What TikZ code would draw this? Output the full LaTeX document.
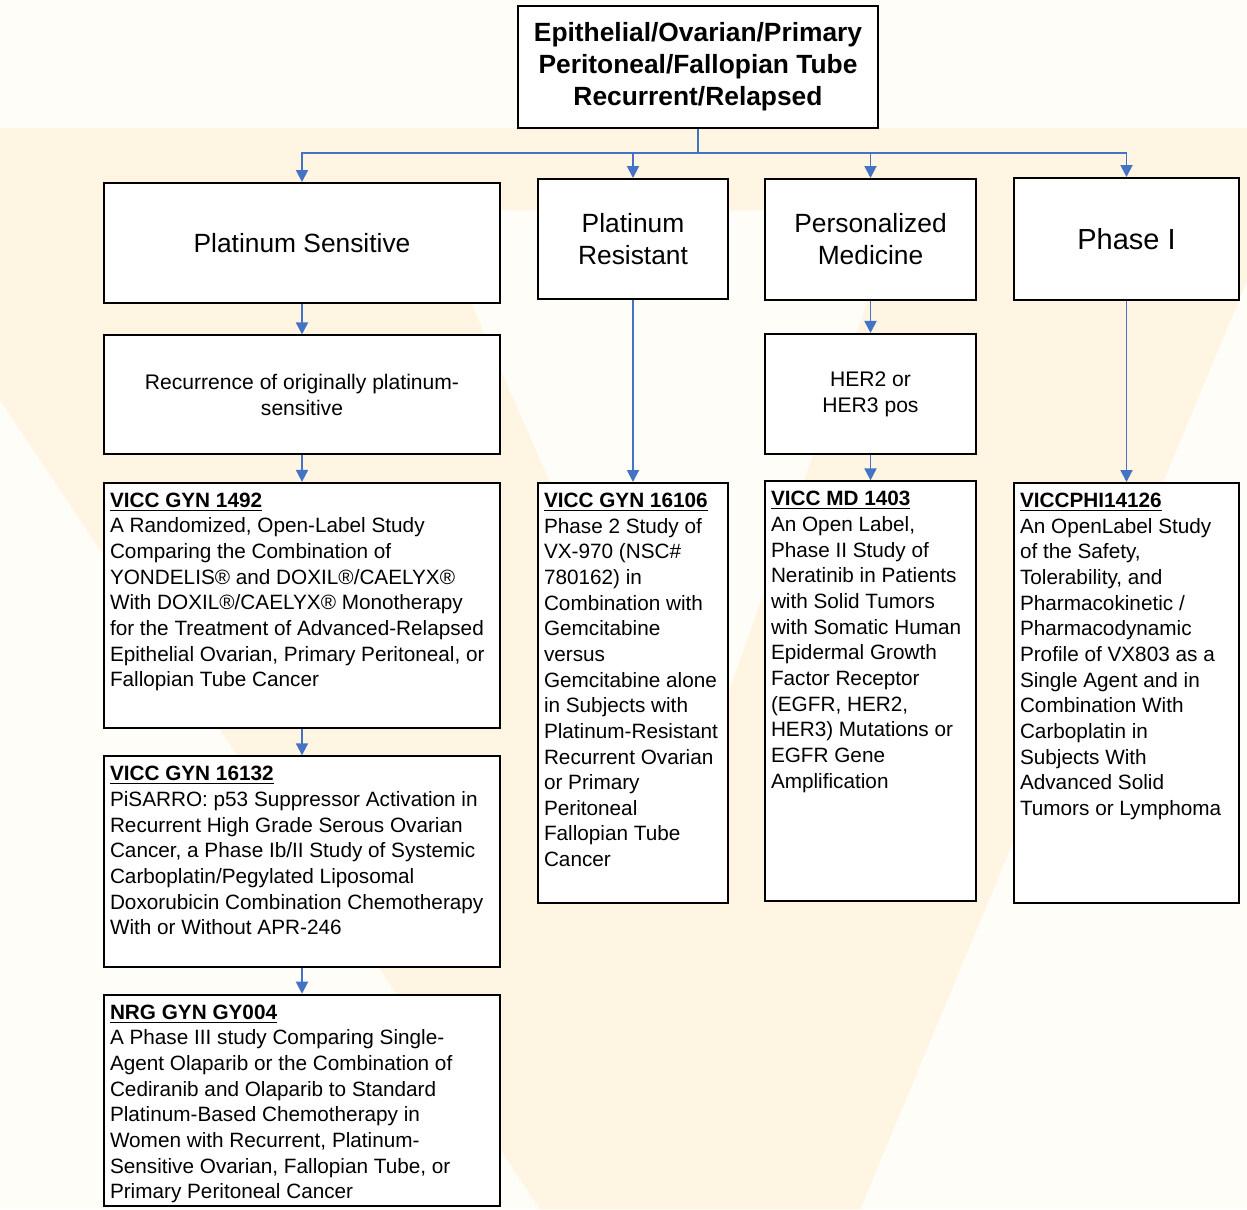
\documentclass[tikz,border=0pt]{standalone}
\usepackage{fontspec}
\setmainfont{Liberation Sans}
\usetikzlibrary{arrows.meta, positioning, calc}
\definecolor{linkblue}{HTML}{4472C4}
\definecolor{paper}{HTML}{FFFDF7}
\definecolor{markorange}{HTML}{FFF5E2}
\newcommand{\headfont}{\fontsize{15}{18.2}\selectfont}
\newcommand{\subfont}{\fontsize{12}{14.8}\selectfont}
\newcommand{\trialfont}{\fontsize{11.8}{14.6}\selectfont}
\newcommand{\trialid}[1]{\underline{\textbf{#1}}}
\tikzset{
    box/.style={rectangle, draw=black, fill=white, line width=1.1pt, anchor=north, inner sep=2pt},
    headbox/.style={box, align=center, font=\headfont},
    subbox/.style={box, align=center, font=\subfont},
    trial/.style 2 args={box, inner xsep=0.12cm, inner ysep=0.2cm, font=\trialfont,
        execute at begin node={\begin{minipage}[t][#2][t]{#1}\raggedright},
        execute at end node={\end{minipage}}},
    arrow/.style={-{Triangle[length=0.24cm, width=0.24cm]}, line width=1.1pt, draw=linkblue}
}

\begin{document}
\begin{tikzpicture}
    \useasboundingbox (0,0) rectangle (24.94,-24.18);
    % faint watermark behind the chart
    \begin{scope}[x=0.02cm, y=-0.02cm]
        \fill[paper] (0,0) rectangle (1247,1209);
        \fill[markorange, even odd rule] (0,128) -- (1247,128) -- (1247,280) -- (860,1209) -- (540,1209) -- (0,400) -- cycle
            (430,210) -- (900,210) -- (690,800) -- cycle;
    \end{scope}

    \node[headbox, font=\bfseries\headfont, minimum width=7.2cm, minimum height=2.44cm] (top) at (13.96,-0.1)
        {Epithelial/Ovarian/Primary\\Peritoneal/Fallopian Tube\\Recurrent/Relapsed};

    \node[headbox, minimum width=7.92cm, minimum height=2.4cm] (ps) at (6.04,-3.64) {Platinum Sensitive};
    \node[headbox, minimum width=3.8cm, minimum height=2.4cm] (pr) at (12.66,-3.56) {Platinum\\Resistant};
    \node[headbox, minimum width=4.22cm, minimum height=2.42cm] (pm) at (17.41,-3.56) {Personalized\\Medicine};
    \node[headbox, font=\fontsize{16.5}{19}\selectfont, minimum width=4.5cm, minimum height=2.44cm] (ph) at (22.53,-3.54) {Phase I};

    \coordinate (fork) at ($(top.south)+(0,-0.48)$);
    \draw[arrow, -] (top) -- (fork);
    \draw[arrow] (fork) -| (ps);
    \draw[arrow] (fork) -| (pr);
    \draw[arrow] (fork) -| (pm);
    \draw[arrow] (fork) -| (ph);

    \node[subbox, below=0.61cm of ps, minimum width=7.92cm, minimum height=2.38cm] (rec) {Recurrence of originally platinum-\\sensitive};
    \node[subbox, below=0.64cm of pm, minimum width=4.22cm, minimum height=2.4cm] (her) {HER2 or\\HER3 pos};

    \node[trial={7.68cm}{4.5cm}, below=0.53cm of rec] (g1492) {\trialid{VICC GYN 1492}\\
        A Randomized, Open-Label Study\\
        Comparing the Combination of\\
        YONDELIS® and DOXIL®/CAELYX®\\
        With DOXIL®/CAELYX® Monotherapy\\
        for the Treatment of Advanced-Relapsed\\
        Epithelial Ovarian, Primary Peritoneal, or\\
        Fallopian Tube Cancer};
    \node[trial={7.68cm}{3.82cm}, below=0.53cm of g1492] (g16132) {\trialid{VICC GYN 16132}\\
        PiSARRO: p53 Suppressor Activation in\\
        Recurrent High Grade Serous Ovarian\\
        Cancer, a Phase Ib/II Study of Systemic\\
        Carboplatin/Pegylated Liposomal\\
        Doxorubicin Combination Chemotherapy\\
        With or Without APR-246};
    \node[trial={7.68cm}{3.82cm}, below=0.51cm of g16132] (gy004) {\trialid{NRG GYN GY004}\\
        A Phase III study Comparing Single-\\
        Agent Olaparib or the Combination of\\
        Cediranib and Olaparib to Standard\\
        Platinum-Based Chemotherapy in\\
        Women with Recurrent, Platinum-\\
        Sensitive Ovarian, Fallopian Tube, or\\
        Primary Peritoneal Cancer};

    \node[trial={3.56cm}{8cm}] (g16106) at (12.66,-9.64) {\trialid{VICC GYN 16106}\\
        Phase 2 Study of\\
        VX-970 (NSC\#\\
        780162) in\\
        Combination with\\
        Gemcitabine\\
        versus\\
        Gemcitabine alone\\
        in Subjects with\\
        Platinum-Resistant\\
        Recurrent Ovarian\\
        or Primary\\
        Peritoneal\\
        Fallopian Tube\\
        Cancer};
    \node[trial={3.98cm}{8cm}, below=0.51cm of her] (md1403) {\trialid{VICC MD 1403}\\
        An Open Label,\\
        Phase II Study of\\
        Neratinib in Patients\\
        with Solid Tumors\\
        with Somatic Human\\
        Epidermal Growth\\
        Factor Receptor\\
        (EGFR, HER2,\\
        HER3) Mutations or\\
        EGFR Gene\\
        Amplification};
    \node[trial={4.26cm}{8cm}] (phi14126) at (22.53,-9.64) {\trialid{VICCPHI14126}\\
        An OpenLabel Study\\
        of the Safety,\\
        Tolerability, and\\
        Pharmacokinetic /\\
        Pharmacodynamic\\
        Profile of VX803 as a\\
        Single Agent and in\\
        Combination With\\
        Carboplatin in\\
        Subjects With\\
        Advanced Solid\\
        Tumors or Lymphoma};

    \draw[arrow] (ps) -- (rec);
    \draw[arrow] (rec) -- (g1492);
    \draw[arrow] (g1492) -- (g16132);
    \draw[arrow] (g16132) -- (gy004);
    \draw[arrow] (pr) -- (g16106);
    \draw[arrow] (pm) -- (her);
    \draw[arrow] (her) -- (md1403);
    \draw[arrow] (ph) -- (phi14126);
\end{tikzpicture}
\end{document}
